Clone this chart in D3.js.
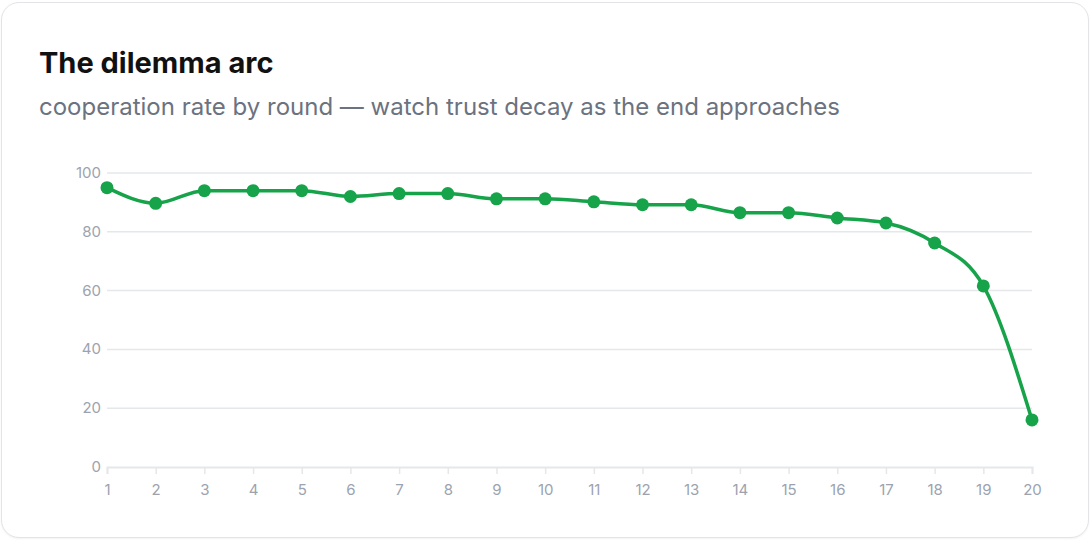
<!DOCTYPE html>
<html>
<head>
<meta charset="utf-8">
<script src="https://cdn.jsdelivr.net/npm/d3@7"></script>
<style>
  html, body { margin: 0; padding: 0; background: #fff; }
  body { width: 1092px; height: 542px; overflow: hidden; font-family: Inter, "Noto Sans", sans-serif; }
  .card {
    position: absolute; left: 1px; top: 2px; width: 1086px; height: 534px;
    border: 1px solid #e4e4e7; border-radius: 18px; background: #fff;
    box-shadow: 0 1px 2px rgba(0,0,0,0.05);
  }
  svg { position: absolute; left: 0; top: 0; }
</style>
</head>
<body>
<div class="card"></div>
<svg id="chart" width="1092" height="542"></svg>
<script>
// cooperation rate (%) for each round
var rounds = d3.range(1, 21);
var coopRate = [95, 89.7, 94, 94, 94, 92, 93, 93, 91.2, 91.2, 90.2, 89.2, 89.2, 86.5, 86.5, 84.7, 83, 76.2, 61.6, 16];
var yTicks = [0, 20, 40, 60, 80, 100];

var title = "The dilemma arc";
var subtitle = "cooperation rate by round \u2014 watch trust decay as the end approaches";

var svg = d3.select('#chart');
var green = '#16a34a';

svg.append('text').attr('x', 39).attr('y', 73)
   .attr('font-size', 29).attr('font-weight', 700).attr('fill', '#111')
   .text(title);
svg.append('text').attr('x', 39).attr('y', 115)
   .attr('font-size', 24).attr('fill', '#6b7280')
   .text(subtitle);

var x = d3.scaleLinear().domain([1, 20]).range([107, 1032]);
var y = d3.scaleLinear().domain([0, 100]).range([467, 173]);

// horizontal grid
svg.append('g').selectAll('line')
   .data(yTicks.filter(function (d) { return d > 0; }))
   .enter().append('line')
   .attr('x1', x(1)).attr('x2', x(20))
   .attr('y1', function (d) { return y(d); })
   .attr('y2', function (d) { return y(d); })
   .attr('stroke', '#e5e7eb').attr('stroke-width', 1.5);

// y labels
svg.append('g').selectAll('text')
   .data(yTicks)
   .enter().append('text')
   .attr('x', 101)
   .attr('y', function (d) { return y(d) + 5; })
   .attr('text-anchor', 'end')
   .attr('font-size', 15).attr('fill', '#9ca3af')
   .text(function (d) { return d; });

// x axis
var xAxis = d3.axisBottom(x).tickValues(rounds).tickFormat(d3.format('d')).tickSize(7).tickPadding(10);
var gx = svg.append('g').attr('transform', 'translate(0,' + y(0) + ')').call(xAxis);
gx.select('.domain').attr('stroke', '#e5e7eb').attr('stroke-width', 2);
gx.selectAll('.tick line').attr('stroke', '#e5e7eb').attr('stroke-width', 1.5);
gx.selectAll('.tick text').attr('fill', '#9ca3af').attr('font-size', 15)
  .attr('font-family', 'Inter, "Noto Sans", sans-serif');

var pts = rounds.map(function (r, i) { return [r, coopRate[i]]; });

var line = d3.line()
  .x(function (d) { return x(d[0]); })
  .y(function (d) { return y(d[1]); })
  .curve(d3.curveMonotoneX);

svg.append('path').datum(pts)
   .attr('d', line)
   .attr('fill', 'none')
   .attr('stroke', green)
   .attr('stroke-width', 3.5)
   .attr('stroke-linejoin', 'round');

svg.append('g').selectAll('circle')
   .data(pts)
   .enter().append('circle')
   .attr('cx', function (d) { return x(d[0]); })
   .attr('cy', function (d) { return y(d[1]); })
   .attr('r', 6.5)
   .attr('fill', green);
</script>
</body>
</html>
